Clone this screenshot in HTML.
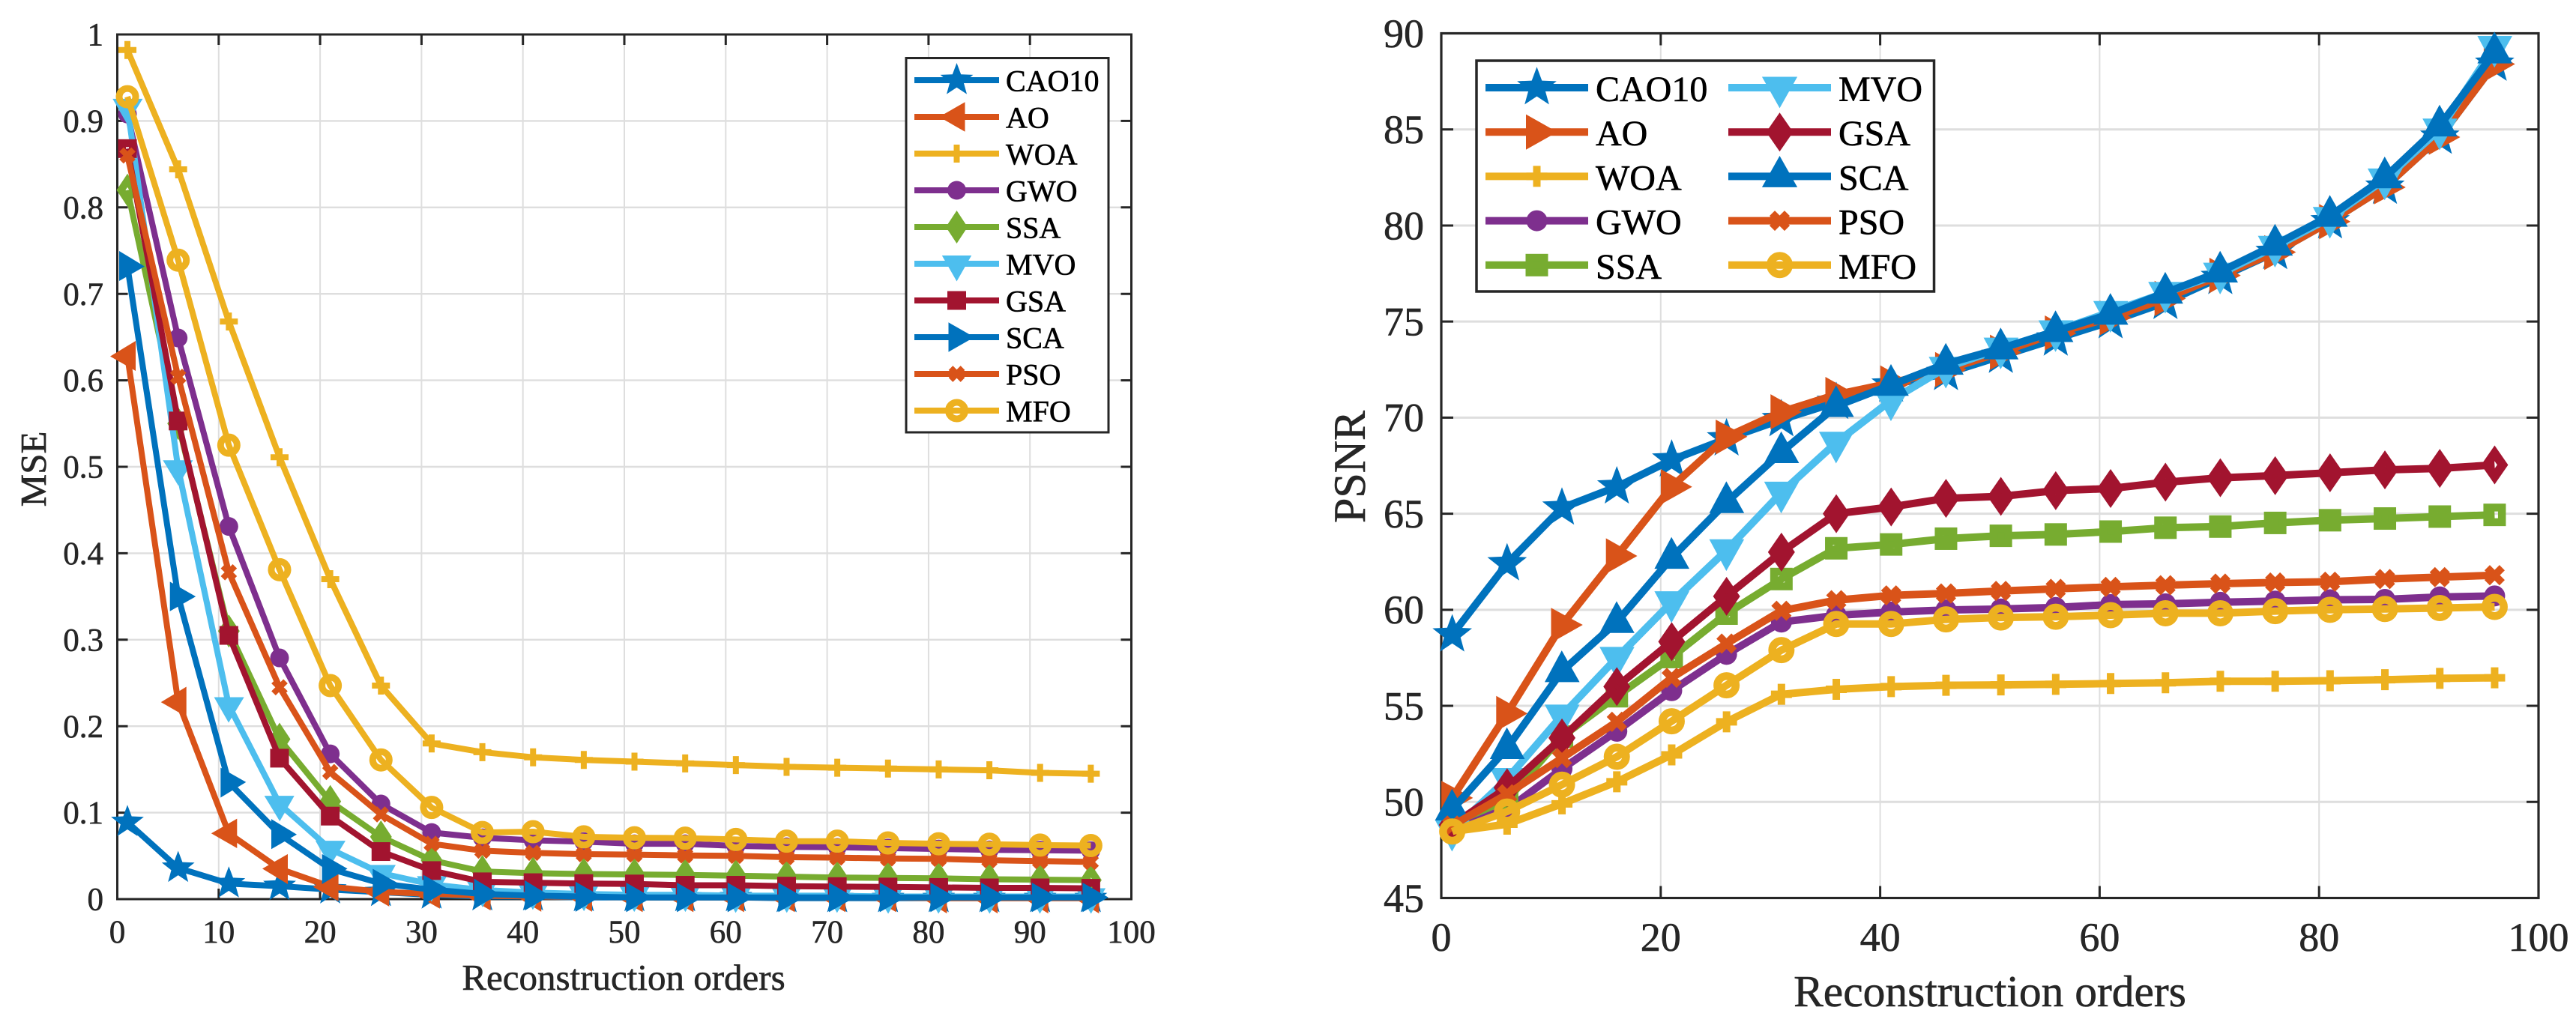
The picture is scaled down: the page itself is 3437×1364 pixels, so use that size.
<!DOCTYPE html>
<html lang="en">
<head>
<meta charset="utf-8">
<title>MSE and PSNR versus reconstruction orders</title>
<style>
html,body{margin:0;padding:0;background:#fff;}
svg{display:block;font-family:"Liberation Serif",serif;}
text{paint-order:stroke;stroke:currentColor;stroke-width:0.6px;}
</style>
</head>
<body>
<svg id="figure" xmlns="http://www.w3.org/2000/svg" width="3437" height="1364" viewBox="0 0 3437 1364" color="#262626">
  <rect x="0" y="0" width="3437" height="1364" fill="#fff"/>
  <g id="mse-chart"></g>
  <g id="psnr-chart"></g>
  <text x="832" y="1321" font-size="49" text-anchor="middle" fill="#262626">Reconstruction orders</text>
  <text transform="translate(61,626) rotate(-90)" font-size="49" text-anchor="middle" fill="#262626">MSE</text>
  <text x="2655" y="1343" font-size="59.5" text-anchor="middle" fill="#262626">Reconstruction orders</text>
  <text transform="translate(1821,623) rotate(-90)" font-size="60" text-anchor="middle" fill="#262626">PSNR</text>
</svg>
<script>
// ---- shared data ----
const orders = [1,6,11,16,21,26,31,36,41,46,51,56,61,66,71,76,81,86,91,96];
const seriesNames = ["CAO10","AO","WOA","GWO","SSA","MVO","GSA","SCA","PSO","MFO"];

// ---- MSE chart data ----
const mseXTicks = [0,10,20,30,40,50,60,70,80,90,100];
const mseYTicks = [0,0.1,0.2,0.3,0.4,0.5,0.6,0.7,0.8,0.9,1];
const mseCAO10 = [.089,.036,.018,.015,.011,.008,.005,.003,.003,.002,.002,.002,.002,.001,.001,.001,.001,.001,.001,.001];
const mseAO    = [.628,.228,.076,.035,.0145,.0085,.006,.004,.003,.003,.002,.002,.002,.002,.002,.002,.001,.001,.001,.001];
const mseWOA   = [.982,.844,.668,.511,.37,.247,.18,.17,.164,.161,.159,.157,.155,.153,.152,.151,.15,.149,.146,.145];
const mseGWO   = [.908,.649,.431,.279,.168,.11,.077,.071,.068,.0665,.064,.064,.0615,.0605,.06,.059,.058,.057,.0565,.056];
const mseSSA   = [.82,.55,.31,.185,.113,.072,.045,.032,.03,.029,.0285,.028,.027,.026,.025,.0245,.024,.023,.0225,.022];
const mseMVO   = [.916,.498,.224,.11,.058,.03,.017,.0105,.0075,.006,.005,.005,.004,.004,.004,.003,.003,.003,.003,.003];
const mseGSA   = [.868,.553,.305,.163,.096,.055,.033,.02,.019,.018,.0175,.016,.016,.015,.0145,.014,.0135,.013,.013,.0125];
const mseSCA   = [.732,.35,.135,.075,.035,.018,.011,.006,.004,.003,.002,.002,.002,.002,.002,.002,.002,.002,.002,.002];
const msePSO   = [.86,.604,.378,.245,.147,.098,.064,.056,.0535,.052,.0515,.0505,.05,.0485,.048,.047,.0465,.045,.044,.043];
const mseMFO   = [.928,.739,.525,.381,.247,.161,.106,.077,.078,.072,.071,.0705,.069,.067,.067,.065,.064,.0635,.0625,.062];

// ---- PSNR chart data ----
const psnrXTicks = [0,20,40,60,80,100];
const psnrYTicks = [45,50,55,60,65,70,75,80,85,90];
const psnrCAO10 = [58.7,62.4,65.3,66.4,67.8,68.9,69.9,70.8,71.7,72.3,73.2,74.1,75,76,77.3,78.6,80.2,82,84.6,88.4];
const psnrAO    = [50.2,54.6,59.2,62.8,66.4,69,70.3,71.2,71.8,72.5,73.4,74.4,75.2,76.2,77.4,78.6,80.2,82,84.6,88.4];
const psnrWOA   = [48.46,48.84,49.9,51.05,52.45,54.17,55.6,55.86,56,56.07,56.09,56.12,56.16,56.2,56.28,56.28,56.31,56.36,56.43,56.46];
const psnrGWO   = [48.77,49.6,51.72,53.68,55.79,57.68,59.36,59.71,59.88,59.99,60.04,60.12,60.27,60.31,60.39,60.45,60.52,60.54,60.67,60.72];
const psnrSSA   = [48.9,50.1,53.4,55.5,57.54,59.8,61.6,63.2,63.4,63.7,63.85,63.92,64.07,64.27,64.33,64.52,64.66,64.75,64.85,64.94];
const psnrMVO   = [48.5,51.2,54.5,57.5,60.4,63.1,66.1,68.7,70.9,72.6,73.6,74.5,75.5,76.5,77.5,78.9,80.4,82.4,85,89.3];
const psnrGSA   = [48.8,50.74,53.33,56,58.34,60.7,63,65,65.35,65.8,65.9,66.2,66.31,66.64,66.87,66.98,67.13,67.28,67.36,67.54];
const psnrSCA   = [49.6,52.8,56.8,59.36,62.7,65.6,68.2,70.6,71.7,72.8,73.6,74.5,75.4,76.5,77.6,79,80.5,82.5,85.2,89];
const psnrPSO   = [48.77,50.4,52.28,54.17,56.46,58.24,59.95,60.5,60.75,60.85,60.98,61.09,61.19,61.28,61.36,61.42,61.46,61.6,61.7,61.8];
const psnrMFO   = [48.46,49.5,50.9,52.35,54.2,56.07,57.9,59.26,59.26,59.5,59.6,59.64,59.72,59.82,59.82,59.93,60,60.04,60.09,60.15];

const mseValues = [mseCAO10,mseAO,mseWOA,mseGWO,mseSSA,mseMVO,mseGSA,mseSCA,msePSO,mseMFO];
const psnrValues = [psnrCAO10,psnrAO,psnrWOA,psnrGWO,psnrSSA,psnrMVO,psnrGSA,psnrSCA,psnrPSO,psnrMFO];
const seriesColors = ["#0072BD","#D95319","#EDB120","#7E2F8E","#77AC30","#4DBEEE","#A2142F","#0072BD","#D95319","#EDB120"];
const mseMarkers = ["star","left","plus","dot","diamond","down","square","right","cross","ring"];
const psnrMarkers = ["star","right","plus","dot","square","down","diamond","up","cross","ring"];

const NS = "http://www.w3.org/2000/svg";
function mk(parent, tag, attrs){
  const el = document.createElementNS(NS, tag);
  for (const k in attrs) el.setAttribute(k, attrs[k]);
  parent.appendChild(el);
  return el;
}

// marker geometry for each panel
const mseStyle = {sw:8, triSw:21, diaSw:10, starR:23, triLen:34, triBase:11, triHW:20, dotR:12.5, squareOut:25, squareSw:10.5, diaHW:14.5, diaHH:22, plusH:12, crossH:8, ringOut:15.5, ringSw:9};
const psnrStyle = {sw:10, triSw:25, diaSw:12, starR:27.7, triLen:42, triBase:14.5, triHW:23.5, dotR:14, squareOut:30, squareSw:10.5, diaHW:18, diaHH:26, plusH:14, crossH:10, ringOut:17.5, ringSw:10.5};

function triangle(g, cx, cy, dir, color, st){
  // outer triangle described along pointing axis, inset so miter tips land on the outer outline
  const L = st.triLen, B = st.triBase, H = st.triHW;
  const side = Math.sqrt(H*H + L*L);
  const r = (H*L) / (H + side);
  const k = 1 - st.triSw/(2*r);
  const inc = -B + r;
  const raw = [[-B,-H],[L-B,0],[-B,H]].map(p => [inc + (p[0]-inc)*k, p[1]*k]);
  const rot = {right:p=>[p[0],p[1]], left:p=>[-p[0],p[1]], down:p=>[p[1],p[0]], up:p=>[p[1],-p[0]]}[dir];
  const pts = raw.map(rot).map(p => (cx+p[0]).toFixed(1)+","+(cy+p[1]).toFixed(1)).join(" ");
  return mk(g, "polygon", {points:pts, fill:"none", stroke:color, "stroke-width":st.triSw, "stroke-linejoin":"miter", "stroke-miterlimit":12});
}

function drawMarker(g, kind, cx, cy, color, st, name){
  let el;
  if (kind === "star"){
    const pts = [];
    for (let i=0;i<10;i++){
      const rad = i%2===0 ? st.starR : st.starR*0.42;
      const a = -Math.PI/2 + i*Math.PI/5;
      pts.push((cx+rad*Math.cos(a)).toFixed(1)+","+(cy+rad*Math.sin(a)).toFixed(1));
    }
    el = mk(g, "polygon", {points:pts.join(" "), fill:color});
  } else if (kind === "left" || kind === "right" || kind === "up" || kind === "down"){
    el = triangle(g, cx, cy, kind, color, st);
  } else if (kind === "plus"){
    const h = st.plusH;
    el = mk(g, "path", {d:`M${cx-h} ${cy}H${cx+h}M${cx} ${cy-h}V${cy+h}`, fill:"none", stroke:color, "stroke-width":st.sw});
  } else if (kind === "cross"){
    const h = st.crossH;
    el = mk(g, "path", {d:`M${cx-h} ${cy-h}L${cx+h} ${cy+h}M${cx-h} ${cy+h}L${cx+h} ${cy-h}`, fill:"none", stroke:color, "stroke-width":st.sw});
  } else if (kind === "dot"){
    el = mk(g, "circle", {cx:cx, cy:cy, r:st.dotR, fill:color});
  } else if (kind === "square"){
    const s = st.squareOut - st.squareSw;
    el = mk(g, "rect", {x:cx-s/2, y:cy-s/2, width:s, height:s, fill:"none", stroke:color, "stroke-width":st.squareSw});
  } else if (kind === "diamond"){
    const hw = st.diaHW, hh = st.diaHH;
    const r = hw*hh/Math.sqrt(hw*hw+hh*hh);
    const k = 1 - st.diaSw/(2*r);
    const pts = `${cx},${cy-hh*k} ${cx+hw*k},${cy} ${cx},${cy+hh*k} ${cx-hw*k},${cy}`;
    el = mk(g, "polygon", {points:pts, fill:"none", stroke:color, "stroke-width":st.diaSw, "stroke-miterlimit":12});
  } else {
    el = mk(g, "circle", {cx:cx, cy:cy, r:st.ringOut-st.ringSw/2, fill:"none", stroke:color, "stroke-width":st.ringSw});
  }
  
  
  return el;
}

function drawChart(cfg){
  const root = document.getElementById(cfg.id);
  const sx = v => cfg.left + (v-cfg.xMin)/(cfg.xMax-cfg.xMin)*(cfg.right-cfg.left);
  const sy = v => cfg.bottom - (v-cfg.yMin)/(cfg.yMax-cfg.yMin)*(cfg.bottom-cfg.top);

  // grid
  const grid = mk(root, "g", {});
  
  
  cfg.xTicks.forEach(t => {
    if (t===cfg.xMin || t===cfg.xMax) return;
    const l = mk(grid, "line", {x1:sx(t), x2:sx(t), y1:cfg.top, y2:cfg.bottom, stroke:"#dedede", "stroke-width":cfg.gridV});
    
    
  });
  cfg.yTicks.forEach(t => {
    if (t===cfg.yMin || t===cfg.yMax) return;
    const l = mk(grid, "line", {x1:cfg.left, x2:cfg.right, y1:sy(t), y2:sy(t), stroke:"#dedede", "stroke-width":cfg.gridH});
    
    
  });

  // axes frame and ticks
  const axes = mk(root, "g", {stroke:"#262626", fill:"none"});
  
  
  mk(axes, "rect", {x:cfg.left, y:cfg.top, width:cfg.right-cfg.left, height:cfg.bottom-cfg.top, "stroke-width":cfg.axisW});
  cfg.xTicks.forEach(t => {
    if (t===cfg.xMin || t===cfg.xMax) return;
    const tk = mk(axes, "path", {d:`M${sx(t)} ${cfg.bottom}v${-cfg.tick}M${sx(t)} ${cfg.top}v${cfg.tick}`, "stroke-width":cfg.tickW});
    
    
  });
  cfg.yTicks.forEach(t => {
    if (t===cfg.yMin || t===cfg.yMax) return;
    const tk = mk(axes, "path", {d:`M${cfg.left} ${sy(t)}h${cfg.tick}M${cfg.right} ${sy(t)}h${-cfg.tick}`, "stroke-width":cfg.tickW});
    
    
  });

  // tick labels
  cfg.xTicks.forEach(t => {
    const tx = mk(root, "text", {x:sx(t), y:cfg.xLabelY, "font-size":cfg.tickFont, "text-anchor":"middle", fill:"#262626"});
    tx.textContent = String(t);
    
    
  });
  cfg.yTicks.forEach(t => {
    const tx = mk(root, "text", {x:cfg.yLabelX, y:sy(t)+cfg.tickFont*0.34, "font-size":cfg.tickFont, "text-anchor":"end", fill:"#262626"});
    tx.textContent = String(t);
    
    
  });

  // series
  seriesNames.forEach((name,i) => {
    const vals = cfg.values[i];
    const g = mk(root, "g", {});
    
    
    const d = orders.map((o,j) => sx(o).toFixed(1)+","+sy(vals[j]).toFixed(1)).join(" ");
    const line = mk(g, "polyline", {points:d, fill:"none", stroke:seriesColors[i], "stroke-width":cfg.style.sw, "stroke-linejoin":"round"});
    
    
    orders.forEach((o,j) => {
      drawMarker(g, cfg.markers[i], sx(o), sy(vals[j]), seriesColors[i], cfg.style, 'marker-' + name.toLowerCase());
    });
  });

  // legend
  const lg = cfg.legend;
  const leg = mk(root, "g", {});
  
  
  mk(leg, "rect", {x:lg.x, y:lg.y, width:lg.w, height:lg.h, fill:"#fff", stroke:"#262626", "stroke-width":lg.border});
  seriesNames.forEach((name,i) => {
    const col = i < lg.perCol ? 0 : 1;
    const row = i % lg.perCol;
    const ox = lg.colX[col], cy = lg.rowY + row*lg.rowStep;
    const e = mk(leg, "g", {});
    
    
    mk(e, "line", {x1:ox, x2:ox+lg.lineW, y1:cy, y2:cy, stroke:seriesColors[i], "stroke-width":cfg.style.sw});
    drawMarker(e, cfg.markers[i], ox+lg.lineW/2, cy, seriesColors[i], cfg.style, 'legend-marker');
    const t = mk(e, "text", {x:ox+lg.lineW+lg.gap, y:cy+lg.base, "font-size":lg.font, fill:"#000", color:"#000"});
    t.textContent = name;
    
    
  });
}

drawChart({
  id:"mse-chart", left:156.5, right:1509.5, top:46, bottom:1200,
  xMin:0, xMax:100, yMin:0, yMax:1, xTicks:mseXTicks, yTicks:mseYTicks,
  values:mseValues, markers:mseMarkers, style:mseStyle,
  gridV:2, gridH:2.4, axisW:3, tickW:3, tick:14, tickFont:43, xLabelY:1258, yLabelX:138,
  legend:{x:1209, y:77.5, w:270, h:499.5, border:3, perCol:10, colX:[1220], rowY:107, rowStep:49, lineW:113, gap:9, base:14.5, font:40}
});
drawChart({
  id:"psnr-chart", left:1923, right:3387, top:44.5, bottom:1198.5,
  xMin:0, xMax:100, yMin:45, yMax:90, xTicks:psnrXTicks, yTicks:psnrYTicks,
  values:psnrValues, markers:psnrMarkers, style:psnrStyle,
  gridV:2, gridH:3, axisW:3.2, tickW:3, tick:16, tickFont:54, xLabelY:1269, yLabelX:1900,
  legend:{x:1970, y:81, w:610.5, h:308, border:3.5, perCol:5, colX:[1982,2306], rowY:117, rowStep:59.2, lineW:137, gap:10, base:18, font:48}
});
</script>
</body>
</html>
